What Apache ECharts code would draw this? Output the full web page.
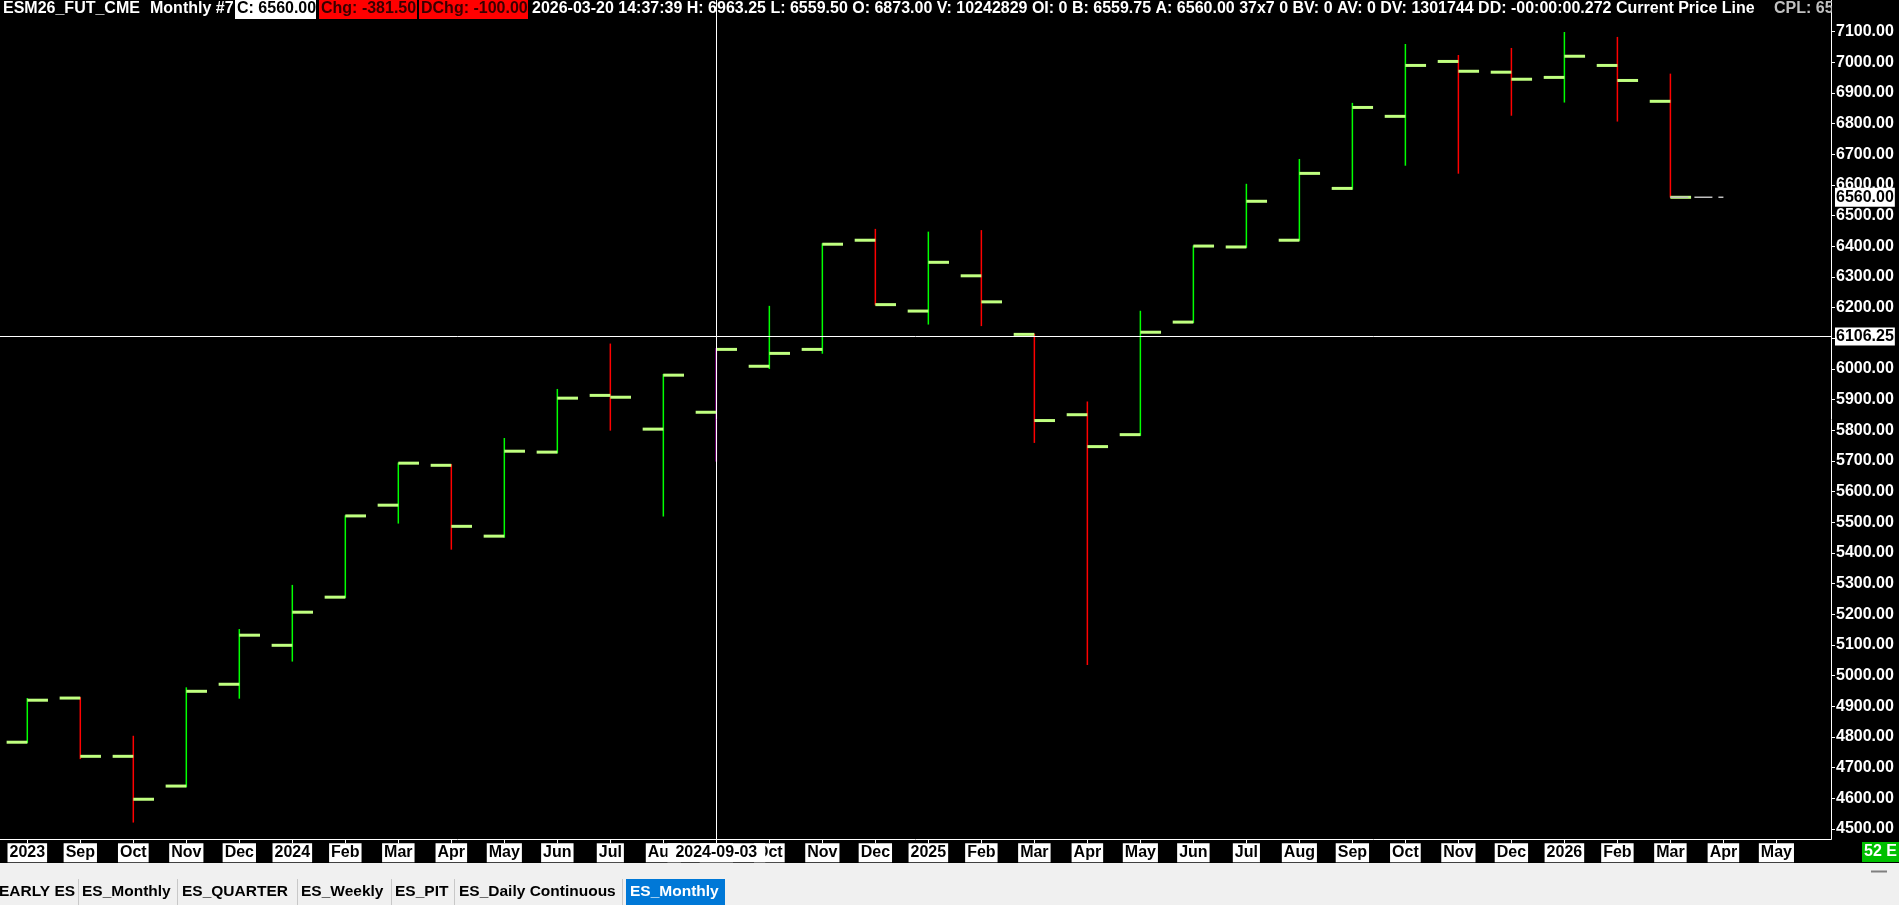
<!DOCTYPE html>
<html>
<head>
<meta charset="utf-8">
<script src="https://cdn.jsdelivr.net/npm/echarts@6/dist/echarts.min.js"></script>
<style>
  html, body { margin:0; padding:0; background:#000; }
  #chart { width:1899px; height:905px; }
</style>
</head>
<body>
<div id="chart"></div>
<script>
// ---- data (ESM26 monthly OHLC) ----
const monthLabels = ["2023","Sep","Oct","Nov","Dec","2024","Feb","Mar","Apr","May","Jun","Jul","Aug","Sep","Oct","Nov","Dec","2025","Feb","Mar","Apr","May","Jun","Jul","Aug","Sep","Oct","Nov","Dec","2026","Feb","Mar","Apr","May"];
const opens  = [4783,4927,4737,4640,4972,5099,5256,5556,5686,5455,5729,5914,5804,5859,6009,6064,6420,6189,6304,6113,5851,5786,6153,6398,6420,6589,6824,7003,6968,6951,6990,6873];
const highs  = [4927,4930,4804,4962,5152,5296,5523,5695,5690,5775,5935,6083,5984,6068,6206,6410,6457,6448,6453,6115,5894,6190,6403,6604,6685,6868,7060,7024,7047,7099,7083,6963.25];
const lows   = [4780,4728,4521,4636,4925,5046,5253,5496,5411,5450,5725,5799,5519,5698,6000,6050,6208,6145,6140,5759,5035,5782,6150,6395,6418,6585,6663,6637,6826,6869,6807,6559.5];
const closes = [4920,4737,4597,4949,5132,5207,5521,5693,5487,5732,5905,5908,5980,6064,6051,6407,6210,6348,6219,5832,5747,6120,6401,6547,6638,6853,6990,6971,6945,7020,6941,6560];
const priceTicks = [4500,4600,4700,4800,4900,5000,5100,5200,5300,5400,5500,5600,5700,5800,5900,6000,6100,6200,6300,6400,6500,6600,6700,6800,6900,7000,7100];
const lastPrice = 6560.00;
const crossPrice = 6106.25;
const crossIndex = 13;
const crossDate = "2024-09-03";
const headerMain = "2026-03-20 14:37:39 H: 6963.25 L: 6559.50 O: 6873.00 V: 10242829 OI: 0 B: 6559.75 A: 6560.00 37x7 0 BV: 0 AV: 0 DV: 1301744 DD: -00:00:00.272 Current Price Line";
const tabNames = ["EARLY ES","ES_Monthly","ES_QUARTER","ES_Weekly","ES_PIT","ES_Daily Continuous","ES_Monthly"];

const FONT = '"Liberation Sans", Arial, sans-serif';
const tickIdx = monthLabels.map((_, i) => i);
const ohlcData = opens.map((o, i) => [i, o, highs[i], lows[i], closes[i]]);
const lastIdx = opens.length - 1;
const cplData = [[lastIdx, lastPrice], [lastIdx + 1, lastPrice]];

const chart = echarts.init(document.getElementById('chart'));

function renderOHLC(params, api) {
  const i = api.value(0);
  const o = api.coord([i, api.value(1)]);
  const h = api.coord([i, api.value(2)]);
  const l = api.coord([i, api.value(3)]);
  const c = api.coord([i, api.value(4)]);
  const w = api.size([1, 0])[0] * 0.39;
  const col = i === crossIndex ? '#ff00ff' : (api.value(4) >= api.value(1) ? '#00ff00' : '#ff0000');
  return {
    type: 'group',
    children: [
      { type: 'line', shape: { x1: o[0], y1: h[1], x2: o[0], y2: l[1] }, style: { stroke: col, lineWidth: 1.5 } },
      { type: 'rect', shape: { x: o[0] - w, y: o[1] - 1.5, width: w, height: 3 }, style: { fill: '#c0ff80' } },
      { type: 'rect', shape: { x: c[0], y: c[1] - 1.5, width: w, height: 3 }, style: { fill: '#c0ff80' } }
    ]
  };
}

const boxLabel = {
  show: true, color: '#000', backgroundColor: '#fff',
  fontFamily: FONT, fontWeight: 'bold', fontSize: 16, lineHeight: 17
};

const tabX = [-1, 82, 182, 301, 395, 459, 630];
const sepX = [78, 177, 297, 391, 454, 622];

const graphics = [
  { type: 'rect', z: 0, shape: { x: 0, y: 863, width: 1899, height: 42 }, style: { fill: '#f0f0f0' } },
  { type: 'rect', z: 1, shape: { x: 626, y: 879, width: 99, height: 26 }, style: { fill: '#0078d7' } },
  { type: 'rect', z: 1, shape: { x: 1862, y: 842, width: 37, height: 20 }, style: { fill: '#00c000' } },
  { type: 'text', z: 2, x: 1864, y: 852, style: { text: '52 E', fill: '#fff', font: 'bold 16px ' + FONT, verticalAlign: 'middle' } },
  { type: 'line', z: 2, shape: { x1: 1871, y1: 871.5, x2: 1887, y2: 871.5 }, style: { stroke: '#808080', lineWidth: 2 } },
  // header
  { type: 'text', z: 100, x: 3, y: 9, style: { text: 'ESM26_FUT_CME', fill: '#fff', font: 'bold 16px ' + FONT, verticalAlign: 'middle' } },
  { type: 'text', z: 100, x: 150, y: 9, style: { text: 'Monthly #7', fill: '#fff', font: 'bold 16px ' + FONT, verticalAlign: 'middle' } },
  { type: 'rect', z: 99, shape: { x: 235, y: 0, width: 81, height: 19 }, style: { fill: '#fff' } },
  { type: 'text', z: 100, x: 237, y: 9, style: { text: 'C: 6560.00', fill: '#000', font: 'bold 16px ' + FONT, verticalAlign: 'middle' } },
  { type: 'rect', z: 99, shape: { x: 319, y: 0, width: 98, height: 19 }, style: { fill: '#ff0000' } },
  { type: 'text', z: 100, x: 321, y: 9, style: { text: 'Chg: -381.50', fill: '#3a0000', font: 'bold 16px ' + FONT, verticalAlign: 'middle' } },
  { type: 'rect', z: 99, shape: { x: 419, y: 0, width: 109, height: 19 }, style: { fill: '#ff0000' } },
  { type: 'text', z: 100, x: 421, y: 9, style: { text: 'DChg: -100.00', fill: '#3a0000', font: 'bold 16px ' + FONT, verticalAlign: 'middle' } },
  { type: 'text', z: 100, x: 532, y: 9, style: { text: headerMain, fill: '#fff', font: 'bold 16px ' + FONT, verticalAlign: 'middle' } },
  { type: 'text', z: 100, x: 1774, y: 9, style: { text: 'CPL: 6560.00', fill: '#c0c0c0', font: 'bold 16px ' + FONT, verticalAlign: 'middle' } },
  { type: 'rect', z: 101, shape: { x: 1832, y: 0, width: 67, height: 20 }, style: { fill: '#000' } }
];
tabNames.forEach((t, k) => {
  graphics.push({ type: 'text', z: 3, x: tabX[k], y: 892, style: { text: t, fill: k === tabNames.length - 1 ? '#fff' : '#000', font: 'bold 15.5px ' + FONT, verticalAlign: 'middle' } });
});
sepX.forEach(x => {
  graphics.push({ type: 'line', z: 2, shape: { x1: x + 0.5, y1: 879, x2: x + 0.5, y2: 905 }, style: { stroke: '#c8c8c8', lineWidth: 1 } });
});

chart.setOption({
  backgroundColor: '#000',
  animation: false,
  grid: { left: 0, right: 68, top: 0, bottom: 65.7 },
  xAxis: {
    type: 'value', min: -0.515, max: 34.03,
    axisLine: { show: true, onZero: false, lineStyle: { color: '#fff', width: 1 } },
    axisTick: { show: true, customValues: tickIdx, length: 4, lineStyle: { color: '#fff' } },
    axisLabel: {
      customValues: tickIdx, margin: 4,
      formatter: v => monthLabels[Math.round(v)] || '',
      color: '#000', backgroundColor: '#fff', padding: [1, 2, 1, 2],
      fontFamily: FONT, fontWeight: 'bold', fontSize: 16, lineHeight: 17
    },
    splitLine: { show: false }
  },
  yAxis: {
    type: 'value', position: 'right', min: 4466.4, max: 7203.4,
    axisLine: { show: true, onZero: false, lineStyle: { color: '#fff', width: 1 } },
    axisTick: { show: true, customValues: priceTicks, length: 4, lineStyle: { color: '#fff' } },
    axisLabel: {
      customValues: priceTicks, margin: 5,
      formatter: v => Number(v).toFixed(2),
      color: '#fff', fontFamily: FONT, fontWeight: 'bold', fontSize: 16
    },
    splitLine: { show: false }
  },
  graphic: graphics,
  series: [
    {
      type: 'line', name: 'Crosshair', z: 1, data: [], silent: true,
      markLine: {
        silent: true, symbol: ['none', 'none'], animation: false,
        lineStyle: { color: '#fff', width: 1, type: 'solid' },
        data: [
          { yAxis: crossPrice, label: Object.assign({}, boxLabel, { position: 'end', distance: 4, padding: [1, 1, 0, 1], formatter: crossPrice.toFixed(2) }) },
          { xAxis: crossIndex, label: Object.assign({}, boxLabel, { position: 'start', distance: 4, padding: [1, 8, 1, 8], formatter: crossDate }) }
        ]
      }
    },
    {
      type: 'custom', name: 'ESM26', z: 3, renderItem: renderOHLC,
      data: ohlcData, encode: { x: 0, y: [1, 2, 3, 4] }
    },
    {
      type: 'line', name: 'Current Price Line', z: 4, data: cplData, symbol: 'none', silent: true,
      lineStyle: { color: '#c0c0c0', width: 1.5, type: [18, 6] },
      markLine: {
        silent: true, symbol: ['none', 'none'], animation: false,
        lineStyle: { color: 'rgba(0,0,0,0)', width: 1, type: 'solid' },
        data: [
          { yAxis: lastPrice, label: Object.assign({}, boxLabel, { position: 'end', distance: 4, padding: [1, 1, 1, 1], formatter: lastPrice.toFixed(2) }) }
        ]
      }
    }
  ]
});
</script>
</body>
</html>
